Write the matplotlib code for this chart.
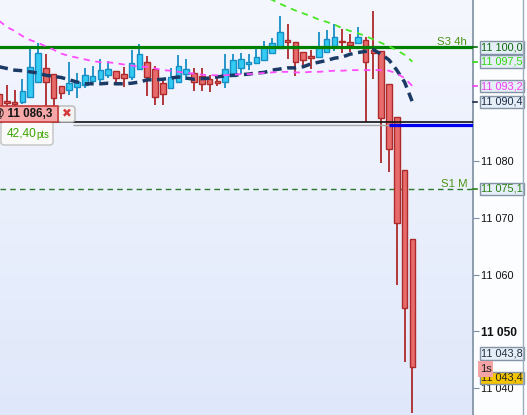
import numpy as np
import matplotlib
matplotlib.use("Agg")
import matplotlib.pyplot as plt
from matplotlib.patches import Rectangle, FancyBboxPatch
from matplotlib.lines import Line2D
from matplotlib.colors import LinearSegmentedColormap
from matplotlib.transforms import blended_transform_factory

plt.rcParams['font.family'] = ['Liberation Sans', 'DejaVu Sans']

# ---- candles (1s) ----
opens = [11091.8, 11090.6, 11090.4, 11090.4, 11091.3, 11093.9, 11096.4, 11095.3, 11093.2, 11092.5,
         11093.0, 11093.4, 11094.1, 11094.4, 11095.2, 11095.9, 11095.3, 11094.8, 11096.2, 11097.4,
         11096.2, 11093.7, 11092.9, 11093.9, 11095.3, 11095.5, 11095.0, 11094.4, 11094.0, 11093.9,
         11095.0, 11096.4, 11097.1, 11097.3, 11097.8, 11099.0, 11099.9, 11101.1, 11101.0, 11099.2,
         11098.3, 11098.3, 11099.2, 11100.3, 11101.0, 11101.0, 11100.8, 11101.3, 11099.6, 11099.4,
         11093.6, 11087.8, 11078.4, 11066.3]
highs = [11092.2, 11093.4, 11092.5, 11094.4, 11099.9, 11100.8, 11098.8, 11095.3, 11093.2, 11097.4,
         11095.5, 11096.4, 11096.7, 11098.0, 11097.6, 11095.9, 11096.6, 11099.6, 11100.6, 11098.5,
         11096.7, 11094.6, 11096.4, 11098.7, 11098.0, 11096.4, 11096.4, 11095.2, 11094.8, 11098.8,
         11098.8, 11099.0, 11098.8, 11100.1, 11101.1, 11101.7, 11105.5, 11104.1, 11101.0, 11099.2,
         11099.6, 11102.7, 11103.1, 11104.1, 11103.2, 11102.4, 11103.6, 11101.8, 11106.4, 11099.4,
         11093.6, 11087.8, 11078.4, 11066.3]
lows = [11089.3, 11089.5, 11089.5, 11090.0, 11091.3, 11093.9, 11089.5, 11089.5, 11090.9, 11091.6,
        11091.1, 11092.9, 11093.9, 11093.9, 11094.6, 11093.9, 11093.0, 11094.3, 11096.2, 11091.5,
        11089.9, 11089.9, 11092.9, 11093.9, 11094.3, 11092.3, 11092.3, 11092.2, 11093.2, 11092.9,
        11095.0, 11095.3, 11096.0, 11097.3, 11097.8, 11099.0, 11099.9, 11098.0, 11095.0, 11096.7,
        11096.2, 11098.3, 11099.2, 11099.4, 11099.0, 11099.2, 11100.8, 11086.9, 11094.4, 11079.6,
        11078.1, 11058.2, 11044.6, 11035.6]
closes = [11089.5, 11090.2, 11090.0, 11092.3, 11096.6, 11099.0, 11093.9, 11091.1, 11092.0, 11093.7,
          11093.9, 11095.2, 11095.0, 11096.0, 11096.2, 11094.6, 11094.6, 11097.3, 11098.8, 11094.8,
          11091.3, 11091.8, 11094.8, 11096.7, 11096.2, 11093.9, 11093.6, 11093.6, 11093.8, 11096.2,
          11097.8, 11098.0, 11097.4, 11098.3, 11100.1, 11100.8, 11102.7, 11101.0, 11097.4, 11097.8,
          11098.2, 11100.1, 11101.5, 11101.8, 11100.9, 11100.4, 11101.8, 11097.4, 11099.0, 11087.6,
          11082.1, 11069.1, 11054.1, 11043.7]

# ---- moving averages ----
ma_navy = [11096.6, 11096.3, 11096.0, 11095.9, 11095.7, 11095.5, 11095.1, 11094.9, 11094.7, 11094.3,
           11093.9, 11093.6, 11093.6, 11093.6, 11093.7, 11093.6, 11093.6, 11093.7, 11093.9, 11094.3,
           11094.3, 11094.4, 11094.6, 11094.8, 11094.6, 11094.4, 11094.5, 11094.6, 11094.8, 11095.0,
           11095.1, 11095.2, 11095.3, 11095.5, 11095.6, 11096.0, 11096.2, 11096.4, 11096.4, 11096.6,
           11097.1, 11097.4, 11097.7, 11098.1, 11098.3, 11098.8, 11099.1, 11099.3, 11099.6, 11098.8,
           11097.8, 11096.0, 11093.9, 11090.4]
ma_pink = [11104.7, 11103.6, 11102.9, 11102.0, 11101.3, 11100.8, 11100.2, 11099.6, 11098.9, 11098.5,
           11098.2, 11097.9, 11097.6, 11097.4, 11097.4, 11097.2, 11097.0, 11096.8, 11096.6, 11096.6,
           11096.3, 11096.0, 11095.9, 11095.7, 11095.5, 11095.4, 11095.2, 11095.1, 11095.1, 11095.1,
           11095.2, 11095.3, 11095.3, 11095.4, 11095.5, 11095.6, 11095.7, 11095.7, 11095.6, 11095.6,
           11095.7, 11095.7, 11095.8, 11095.9, 11095.9, 11096.0, 11096.0, 11096.0, 11096.0, 11096.0,
           11095.9, 11095.4, 11094.6, 11093.2]
ma_green_start = 30
ma_green = [11111.0, 11110.4, 11109.9, 11109.3, 11108.8, 11108.4, 11107.7, 11107.1, 11106.5, 11106.0,
            11105.5, 11104.9, 11104.5, 11104.0, 11103.4, 11102.9, 11102.5, 11102.0, 11101.4, 11100.8,
            11100.2, 11099.5, 11098.7, 11097.5]

# ---- levels / labels ----
s3_4h = 11100.0
s1_m = 11075.1
order_line = 11086.8
entry_price = 11086.3
blue_from = 50
yticks = [11040, 11050, 11060, 11070, 11080]
ytick_labels = ["11 040", "11 050", "11 060", "11 070", "11 080"]
price_tags = [("11 100,0", 11100.0, '#0a6a0a', '#e6eef8'),
              ("11 097,5", 11097.5, '#2ed80a', '#e6eef8'),
              ("11 093,2", 11093.2, '#f03cf0', '#e6eef8'),
              ("11 090,4", 11090.4, '#1c2c48', '#e6eef8'),
              ("11 075,1", 11075.1, '#2a7f10', '#e6eef8'),
              ("11 043,8", 11043.8, '#22303f', '#e6eef8'),
              ("11 043,4", 11043.4, '#222222', '#f5c400')]
tag_nudge = {"11 043,8": 13, "11 043,4": -9}   # pixels, to avoid overlap

W, H = 527, 415
fig = plt.figure(figsize=(W / 100, H / 100), dpi=100)
fig.patch.set_facecolor('#fcfdff')
ax = fig.add_axes([0, 0, 473 / W, 1])

# background gradient
cmap = LinearSegmentedColormap.from_list('bg', ['#f5f7fe', '#dfe8fa'])
ax.imshow(np.linspace(0, 1, 256).reshape(-1, 1), extent=[0, 1, 0, 1], transform=ax.transAxes,
          cmap=cmap, aspect='auto', zorder=0)

x = np.arange(len(closes))
for i in x:
    o, h, l, c = opens[i], highs[i], lows[i], closes[i]
    if c > o:
        fc, ec = '#33cbf4', '#178ec4'
    else:
        fc, ec = '#e86b6b', '#ad2a2a'
    ax.vlines(i, l, h, color=ec, lw=1.3, zorder=2)
    ax.add_patch(Rectangle((i - 0.36, min(o, c)), 0.72, max(abs(c - o), 0.25),
                           facecolor=fc, edgecolor=ec, lw=1, zorder=3))

ax.plot(x, ma_navy, color='#1b3a66', lw=2.5, ls=(0, (2.6, 1.6)), zorder=6)
ax.plot(x, ma_pink, color='#ff4cff', lw=1.3, ls=(0, (3.5, 3)), zorder=6)
ax.plot(np.arange(ma_green_start, ma_green_start + len(ma_green)), ma_green,
        color='#48e624', lw=1.3, ls=(0, (3.5, 3)), zorder=6)

xmax = 0.13 + 473 / 7.8
ax.axhline(s3_4h, color='#008000', lw=2.3, zorder=5)
ax.axhline(s1_m, color='#2d7a2d', lw=1, ls=(0, (4, 3)), zorder=1)
ax.axhline(order_line, color='#111111', lw=1.2, zorder=4)
ax.hlines(entry_price, 9.5, blue_from, color='#a8a8a8', lw=1, zorder=4)
ax.hlines(entry_price, blue_from, xmax, color='#0000ee', lw=2.3, zorder=4)

ax.text(467 / 7.8 + 0.13, s3_4h, "S3 4h", ha='right', va='bottom', fontsize=8.2,
        color='#4a9412', zorder=7)
ax.text(467 / 7.8 + 0.13, s1_m, "S1 M", ha='right', va='bottom', fontsize=8.2,
        color='#4a9412', zorder=7)

ax.set_xlim(0.13, xmax)
ax.set_ylim(11035.28, 11108.35)
ax.set_xticks([])
for s in ['top', 'left', 'bottom']:
    ax.spines[s].set_visible(False)
ax.spines['right'].set_color('#7d8fa0')
ax.spines['right'].set_linewidth(1.2)
ax.yaxis.tick_right()
ax.set_yticks(yticks)
ax.set_yticklabels(ytick_labels)
ax.tick_params(axis='y', length=4, color='#7d8fa0', labelsize=7.8, pad=2, labelcolor='#111111')
for t in ax.get_yticklabels():
    if t.get_text() == "11 050":
        t.set_fontweight('bold')
        t.set_fontsize(8.6)

# price tags on the right axis
tr = blended_transform_factory(ax.transAxes, ax.transData)
for txt, v, col, bg in price_tags:
    dy = tag_nudge.get(txt, 0)
    ax.annotate(txt, xy=(1.0, v), xycoords=tr, xytext=(8, dy), textcoords='offset pixels',
                ha='left', va='center', fontsize=7.8, color=col, annotation_clip=False, zorder=10,
                bbox=dict(boxstyle='square,pad=0.12', fc=bg, ec='#8494a6', lw=1))
    if dy == 0:
        ax.plot([1.0, 1.0085], [v, v], transform=tr, clip_on=False, color=col, lw=1.2, zorder=9)


def fx(p):
    return p / W


def fy(p):
    return 1 - p / H


# "1s" tag
fig.add_artist(Rectangle((fx(478), fy(377)), 15 / W, 16 / H, transform=fig.transFigure,
                         facecolor='#f4a4a4', edgecolor='none', zorder=20))
fig.text(fx(485.5), fy(369), "1s", ha='center', va='center', fontsize=8, color='#222222', zorder=21)

# right mini-panel border
fig.add_artist(Line2D([fx(522.5)] * 2, [0, 1], transform=fig.transFigure, color='#9eabba', lw=1))

# order label
fig.add_artist(Rectangle((fx(-2), fy(122)), 60 / W, 16 / H, transform=fig.transFigure,
                         facecolor='#f6a8a8', edgecolor='#c43c3c', lw=1.2, zorder=20))
fig.add_artist(FancyBboxPatch((fx(58), fy(122)), 17 / W, 16 / H, transform=fig.transFigure,
                              boxstyle='round,pad=0,rounding_size=0.006',
                              facecolor='#f3f3f3', edgecolor='#b8b8b8', lw=1, zorder=19))
fig.add_artist(FancyBboxPatch((fx(1), fy(145)), 52 / W, 23 / H, transform=fig.transFigure,
                              boxstyle='round,pad=0,rounding_size=0.006',
                              facecolor='#fafafa', edgecolor='#c2c2c2', lw=1, zorder=19))
fig.text(fx(52), fy(114), "@ 11 086,3", ha='right', va='center', fontsize=8.4,
         fontweight='bold', color='#151515', zorder=22)
fig.text(fx(66.5), fy(114), "\u2716", ha='center', va='center', fontsize=8.5,
         color='#d43a3a', family=['DejaVu Sans'], zorder=22)
fig.text(fx(7), fy(134), "42,40", ha='left', va='center', fontsize=8.6,
         color='#3aa500', zorder=22)
fig.text(fx(36), fy(135), "pts", ha='left', va='center', fontsize=6.9,
         color='#3aa500', zorder=22)

fig.savefig("out.png", dpi=100)
